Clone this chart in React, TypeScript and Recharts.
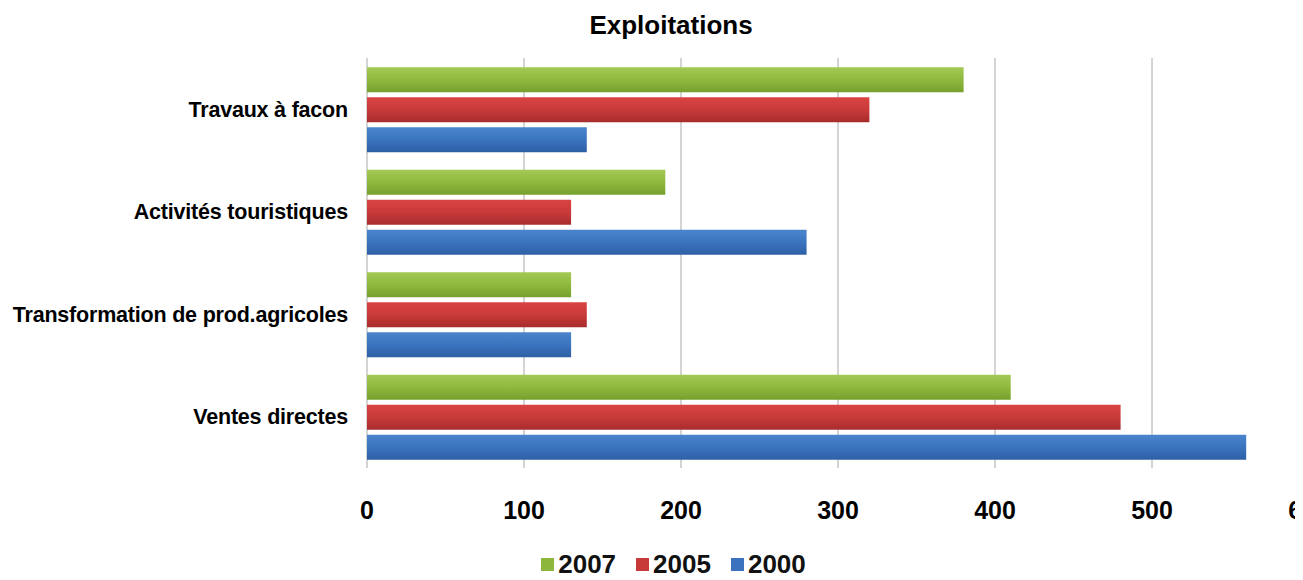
import React from "react";
import { BarChart, Bar, XAxis, YAxis, CartesianGrid, Legend } from "recharts";

const categories = ["Travaux à facon", "Activités touristiques", "Transformation de prod.agricoles", "Ventes directes"];
const values2007 = [380, 190, 130, 410];
const values2005 = [320, 130, 140, 480];
const values2000 = [140, 280, 130, 560];
const xTicks = [0, 100, 200, 300, 400, 500, 600];

const data = categories.map((c, i) => ({
  name: c,
  y2007: values2007[i],
  y2005: values2005[i],
  y2000: values2000[i],
}));

const FONT = "'Liberation Sans', Arial, Helvetica, sans-serif";

const legendItems = [
  { label: "2007", color: "#8db63c" },
  { label: "2005", color: "#c8393a" },
  { label: "2000", color: "#3a72bd" },
];

const renderLegend = () => (
  <div style={{ display: "flex", justifyContent: "center", alignItems: "center", fontFamily: FONT, fontSize: 26, fontWeight: 700, color: "#111", paddingLeft: 30 }}>
    {legendItems.map((it) => (
      <div key={it.label} style={{ display: "flex", alignItems: "center", margin: "0 10px" }}>
        <span style={{ display: "inline-block", width: 13, height: 13, background: it.color, marginRight: 4 }} />
        <span>{it.label}</span>
      </div>
    ))}
  </div>
);

export default function App() {
  return (
    <div style={{ width: 1295, height: 572, overflow: "hidden", position: "relative", background: "#fff" }}>
      <div style={{ position: "absolute", top: 0, left: 0, width: 1330, height: 40, fontFamily: FONT, fontWeight: 900, fontSize: 26, lineHeight: "26px", color: "#000" }}>
        <span style={{ position: "absolute", top: 4, left: 671 - 8, transform: "translateX(-50%)", whiteSpace: "nowrap" }}>Exploitations</span>
      </div>
      <BarChart
        width={1340}
        height={572}
        data={data}
        layout="vertical"
        margin={{ top: 50, right: 39, bottom: 0, left: 0 }}
        barCategoryGap="9%"
        barGap={5}
      >
        <defs>
          <linearGradient id="gGreen" x1="0" y1="0" x2="0" y2="1">
            <stop offset="0%" stopColor="#a3c955" />
            <stop offset="50%" stopColor="#8fb93e" />
            <stop offset="100%" stopColor="#75a02c" />
          </linearGradient>
          <linearGradient id="gRed" x1="0" y1="0" x2="0" y2="1">
            <stop offset="0%" stopColor="#d94442" />
            <stop offset="50%" stopColor="#c93a3a" />
            <stop offset="100%" stopColor="#a82c2d" />
          </linearGradient>
          <linearGradient id="gBlue" x1="0" y1="0" x2="0" y2="1">
            <stop offset="0%" stopColor="#4a85cc" />
            <stop offset="50%" stopColor="#3b74bf" />
            <stop offset="100%" stopColor="#2d5fa5" />
          </linearGradient>
        </defs>
        <CartesianGrid horizontal={false} stroke="#a8a8a8" strokeWidth={1} />
        <XAxis
          type="number"
          domain={[0, 600]}
          ticks={xTicks}
          axisLine={false}
          tickLine={false}
          tickSize={0}
          tickMargin={33}
          height={81}
          tick={{ fill: "#000", fontSize: 25, fontWeight: 700, fontFamily: FONT }}
        />
        <YAxis
          type="category"
          dataKey="name"
          width={359}
          axisLine={false}
          tickLine={false}
          tickSize={0}
          tickMargin={19}
          tick={{ fill: "#000", fontSize: 21.5, fontWeight: 700, fontFamily: FONT, letterSpacing: -0.2 }}
        />
        <Legend verticalAlign="bottom" content={renderLegend} wrapperStyle={{ bottom: 0 }} />
        <Bar dataKey="y2007" name="2007" fill="url(#gGreen)" isAnimationActive={false} />
        <Bar dataKey="y2005" name="2005" fill="url(#gRed)" isAnimationActive={false} />
        <Bar dataKey="y2000" name="2000" fill="url(#gBlue)" isAnimationActive={false} />
      </BarChart>
    </div>
  );
}
